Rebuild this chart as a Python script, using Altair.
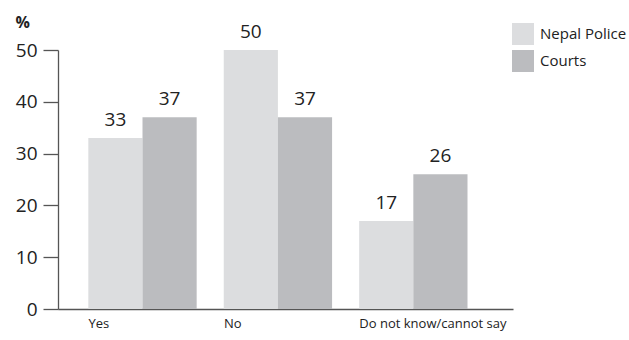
import altair as alt
import pandas as pd

categories = ["Yes", "No", "Do not know/cannot say"]
series = ["Nepal Police", "Courts"]
police = [33, 50, 17]
courts = [37, 37, 26]
colors = ["#dcdddf", "#bbbcbf"]

rows = []
for i, c in enumerate(categories):
    rows.append({"cat": c, "series": series[0], "value": police[i]})
    rows.append({"cat": c, "series": series[1], "value": courts[i]})
df = pd.DataFrame(rows)

FONT = "Open Sans"

x = alt.X("cat:N", sort=categories, title=None,
          scale=alt.Scale(paddingInner=0.2, paddingOuter=0.28, align=0.4),
          axis=alt.Axis(labelAngle=0, labelAlign="left", labelOffset=-54, ticks=False,
                        domainColor="#555555", domainWidth=1.3, labelFontSize=13,
                        labelColor="#222222", labelPadding=8, labelFont=FONT))
xo = alt.XOffset("series:N", sort=series, scale=alt.Scale(paddingInner=0, paddingOuter=0))
y = alt.Y("value:Q", scale=alt.Scale(domain=[0, 50], nice=False),
          axis=alt.Axis(values=[0, 10, 20, 30, 40, 50], grid=False, tickSize=15,
                        tickColor="#555555", domainColor="#555555", domainWidth=1.3,
                        tickWidth=1.3, labelFontSize=19, labelColor="#222222",
                        labelPadding=6, labelFont=FONT,
                        title="%", titleAngle=0, titleFontSize=16, titleFontWeight="bold",
                        titleX=-43, titleY=-36, titleAlign="left", titleBaseline="top",
                        titleFont=FONT, titleColor="#222222"))

bars = alt.Chart(df).mark_bar(strokeWidth=0).encode(
    x=x, xOffset=xo, y=y,
    color=alt.Color("series:N", sort=series,
                    scale=alt.Scale(domain=series, range=colors),
                    legend=alt.Legend(title=None, orient="none", legendX=454, legendY=-27,
                                      symbolType="square", symbolSize=484, symbolStrokeWidth=0,
                                      rowPadding=5, labelOffset=6, labelFontSize=15,
                                      labelFont=FONT, labelColor="#222222")),
)

labels = alt.Chart(df).mark_text(dy=-8, baseline="bottom", fontSize=19, font=FONT,
                                 color="#222222").encode(
    x=alt.X("cat:N", sort=categories), xOffset=alt.XOffset("series:N", sort=series),
    y="value:Q", text="value:Q",
)

chart = alt.layer(bars, labels).properties(
    width=455, height=259,
    background="white",
    autosize=alt.AutoSizeParams(type="none"),
    padding={"left": 58, "top": 50, "right": 116, "bottom": 31},
).configure_view(strokeWidth=0, stroke=None)

chart.save("out.html", embed_options={"renderer": "svg", "actions": False})
